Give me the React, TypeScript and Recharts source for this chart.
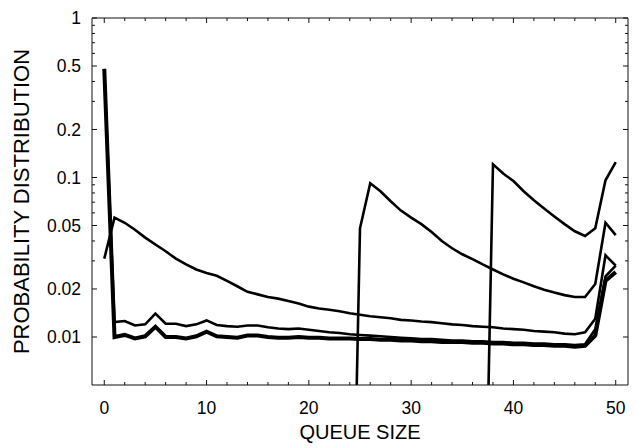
import { LineChart, Line, XAxis, YAxis } from "recharts";

const FONT = '"Liberation Sans", Arial, sans-serif';

const queueSize = [
  0, 1, 2, 3, 4, 5, 6, 7, 8, 9, 10, 11, 12, 13, 14, 15, 16, 17, 18, 19, 20,
  21, 22, 23, 24, 25, 26, 27, 28, 29, 30, 31, 32, 33, 34, 35, 36, 37, 38, 39,
  40, 41, 42, 43, 44, 45, 46, 47, 48, 49, 50,
];

// thick bottom curve (starts near 0.5)
const seriesA = [
  0.48, 0.01, 0.0103, 0.0098, 0.0101, 0.0116, 0.01, 0.01, 0.0098, 0.0101,
  0.0108, 0.0101, 0.01, 0.0099, 0.0102, 0.0102, 0.01, 0.0099, 0.0099, 0.01,
  0.0099, 0.0099, 0.0098, 0.0098, 0.0098, 0.0097, 0.0097, 0.0096, 0.0096,
  0.0095, 0.0095, 0.0094, 0.0094, 0.0093, 0.0093, 0.0093, 0.0092, 0.0092,
  0.0091, 0.0091, 0.009, 0.009, 0.0089, 0.0089, 0.0088, 0.0088, 0.0087,
  0.0088, 0.0102, 0.0225, 0.0255,
];

// thin curve just above it
const seriesF = [
  0.48, 0.0124, 0.0126, 0.0118, 0.012, 0.014, 0.0121, 0.0121, 0.0117, 0.012,
  0.0127, 0.0119, 0.0117, 0.0116, 0.0118, 0.0118, 0.0115, 0.0113, 0.0112,
  0.0113, 0.0111, 0.0109, 0.0107, 0.0106, 0.0104, 0.0103, 0.0102, 0.0101,
  0.01, 0.0099, 0.0098, 0.0097, 0.0097, 0.0096, 0.0095, 0.0095, 0.0094,
  0.0094, 0.0093, 0.0093, 0.0092, 0.0092, 0.0091, 0.0091, 0.009, 0.009,
  0.0089, 0.009, 0.0112, 0.024, 0.028,
];

// curve starting at 0.03 and peaking at 1
const seriesC = [
  0.031, 0.056, 0.052, 0.047, 0.042, 0.038, 0.0345, 0.031, 0.0285, 0.0265,
  0.0252, 0.0242, 0.0225, 0.0208, 0.0192, 0.0185, 0.0178, 0.0174, 0.0168,
  0.0162, 0.0155, 0.0151, 0.0148, 0.0145, 0.0141, 0.0138, 0.0135, 0.0133,
  0.0131, 0.0128, 0.0127, 0.0125, 0.0124, 0.0122, 0.012, 0.0119, 0.0117,
  0.0116, 0.0115, 0.0113, 0.0112, 0.0111, 0.0109, 0.0108, 0.0107, 0.0105,
  0.0104, 0.0107, 0.013, 0.0325, 0.028,
];

// curve jumping up at 25
const seriesE = [
  null, null, null, null, null, null, null, null, null, null, null, null,
  null, null, null, null, null, null, null, null, null, null, null, null,
  0.00004, 0.048, 0.092, 0.082, 0.071, 0.062, 0.056, 0.051, 0.0455, 0.04,
  0.036, 0.033, 0.0308, 0.0285, 0.0265, 0.0247, 0.0232, 0.022, 0.0208,
  0.0198, 0.019, 0.0183, 0.0178, 0.0178, 0.0215, 0.052, 0.0435,
];

// curve jumping up at 38
const seriesD = [
  null, null, null, null, null, null, null, null, null, null, null, null,
  null, null, null, null, null, null, null, null, null, null, null, null,
  null, null, null, null, null, null, null, null, null, null, null, null,
  null, 0.00008, 0.121, 0.106, 0.095, 0.082, 0.072, 0.064, 0.057, 0.051,
  0.046, 0.043, 0.048, 0.096, 0.125,
];

const xTicks = [
  0, 2, 4, 6, 8, 10, 12, 14, 16, 18, 20, 22, 24, 26, 28, 30, 32, 34, 36, 38,
  40, 42, 44, 46, 48, 50,
];
const xMajorTicks = [0, 10, 20, 30, 40, 50];
const yTicks = [
  0.01, 0.02, 0.03, 0.04, 0.05, 0.06, 0.07, 0.08, 0.09, 0.1, 0.2, 0.3, 0.4,
  0.5, 0.6, 0.7, 0.8, 0.9, 1,
];
const yMajorTicks = [0.01, 0.02, 0.05, 0.1, 0.2, 0.5, 1];

const data = queueSize.map((x, i) => ({
  x,
  a: seriesA[i],
  f: seriesF[i],
  c: seriesC[i],
  e: seriesE[i],
  d: seriesD[i],
}));

const MAJOR = 5;
const MINOR = 3;
const X_GAP = 17;
const Y_GAP = 11;

function LeftTick(props: any) {
  const { x, y, payload } = props;
  const major = yMajorTicks.includes(payload.value);
  const ax = x + Y_GAP;
  return (
    <g>
      <line x1={ax} y1={y} x2={ax + (major ? MAJOR : MINOR)} y2={y} stroke="#111" />
      {major && (
        <text x={x} y={y} dy="0.36em" textAnchor="end" fontSize={17.5} fontFamily={FONT} fill="#000">
          {payload.value}
        </text>
      )}
    </g>
  );
}

function RightTick(props: any) {
  const { x, y, payload } = props;
  const major = yMajorTicks.includes(payload.value);
  return <line x1={x} y1={y} x2={x - (major ? MAJOR : MINOR)} y2={y} stroke="#111" />;
}

function BottomTick(props: any) {
  const { x, y, payload } = props;
  const major = xMajorTicks.includes(payload.value);
  const ay = y - X_GAP;
  return (
    <g>
      <line x1={x} y1={ay} x2={x} y2={ay - (major ? MAJOR : MINOR)} stroke="#111" />
      {major && (
        <text x={x} y={y} dy="0.71em" textAnchor="middle" fontSize={17.5} fontFamily={FONT} fill="#000">
          {payload.value}
        </text>
      )}
    </g>
  );
}

function TopTick(props: any) {
  const { x, y, payload } = props;
  const major = xMajorTicks.includes(payload.value);
  return <line x1={x} y1={y} x2={x} y2={y + (major ? MAJOR : MINOR)} stroke="#111" />;
}

export default function App() {
  return (
    <div style={{ position: "absolute", left: 0, top: 0, width: 636, height: 448, background: "#fff" }}>
      <LineChart width={636} height={448} data={data} margin={{ top: 0, right: 0, bottom: 0, left: 0 }}>
        <XAxis
          xAxisId="bottom"
          dataKey="x"
          type="number"
          domain={[-1.2, 51.2]}
          allowDataOverflow
          ticks={xTicks}
          interval={0}
          height={63}
          tickSize={0}
          tickMargin={X_GAP}
          tickLine={false}
          axisLine={{ stroke: "#111" }}
          tick={<BottomTick />}
          label={{
            value: "QUEUE SIZE",
            position: "insideBottom",
            offset: 9,
            fontSize: 20,
            fontFamily: FONT,
            fill: "#000",
          }}
        />
        <XAxis
          xAxisId="top"
          orientation="top"
          dataKey="x"
          type="number"
          domain={[-1.2, 51.2]}
          allowDataOverflow
          ticks={xTicks}
          interval={0}
          height={18}
          tickSize={0}
          tickMargin={0}
          tickLine={false}
          axisLine={{ stroke: "#111" }}
          tick={<TopTick />}
        />
        <YAxis
          yAxisId="left"
          type="number"
          scale="log"
          domain={[0.005, 1]}
          allowDataOverflow
          ticks={yTicks}
          interval={0}
          width={92}
          tickSize={0}
          tickMargin={Y_GAP}
          tickLine={false}
          axisLine={{ stroke: "#111" }}
          tick={<LeftTick />}
          label={{
            value: "PROBABILITY DISTRIBUTION",
            angle: -90,
            position: "insideLeft",
            offset: 21,
            fontSize: 22,
            fontFamily: FONT,
            fill: "#000",
            style: { textAnchor: "middle" },
          }}
        />
        <YAxis
          yAxisId="right"
          orientation="right"
          type="number"
          scale="log"
          domain={[0.005, 1]}
          allowDataOverflow
          ticks={yTicks}
          interval={0}
          width={8}
          tickSize={0}
          tickMargin={0}
          tickLine={false}
          axisLine={{ stroke: "#111" }}
          tick={<RightTick />}
        />
        <Line xAxisId="bottom" yAxisId="left" type="linear" dataKey="c" stroke="#000" strokeWidth={2.6} dot={false} isAnimationActive={false} />
        <Line xAxisId="bottom" yAxisId="left" type="linear" dataKey="e" stroke="#000" strokeWidth={2.6} dot={false} isAnimationActive={false} />
        <Line xAxisId="top" yAxisId="right" type="linear" dataKey="d" stroke="#000" strokeWidth={2.6} dot={false} isAnimationActive={false} />
        <Line xAxisId="bottom" yAxisId="left" type="linear" dataKey="f" stroke="#000" strokeWidth={2.6} dot={false} isAnimationActive={false} />
        <Line xAxisId="bottom" yAxisId="left" type="linear" dataKey="a" stroke="#000" strokeWidth={4} dot={false} isAnimationActive={false} />
      </LineChart>
    </div>
  );
}
